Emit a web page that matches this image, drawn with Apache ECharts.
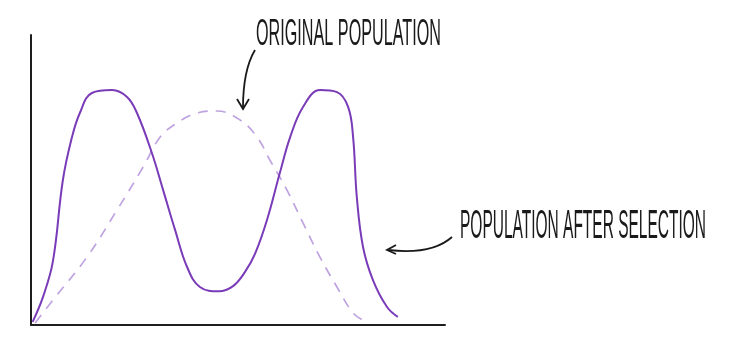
<!DOCTYPE html>
<html><head><meta charset="utf-8">
<script src="https://cdn.jsdelivr.net/npm/echarts@6/dist/echarts.min.js"></script>
<style>html,body{margin:0;padding:0;background:#fff}#c{width:750px;height:353px}</style>
</head><body><div id="c"></div>
<script>
// Population after selection (disruptive) : [trait, frequency]
var afterX = [0.4,2.9,5.3,7.7,9.9,11.8,14.7,19.6,23.2,25.6,29.2,31.9,34.8,37.7,40.8,45.4,48.8,51.7,54.1,57,60.1,62.6,65.7,69.8,73.9,76.6,77.8,78.7,80.2,82.6,86,88.6];
var afterY = [1.1,9.7,22,50,64.8,73.1,80,81,78.6,73.1,59.3,46.6,32.8,20,13.1,11.6,13.4,18.3,24.5,36.2,52.4,64.8,75.2,81,80.3,75.2,64.8,44.1,26.9,15.5,6.2,2.8];
// Original population
var origX = [1,5.3,13.5,20.8,27.1,31.2,35.3,40.1,44.9,50.5,54.6,57.7,61.8,65.7,69.8,73.9,77.8,80.2];
var origY = [0.7,8.6,23.4,39.7,54.5,64.8,69.7,73.1,73.8,70.7,64.8,56.9,46.6,35.2,23.4,13.1,4.1,1.7];
var labelOrig = 'ORIGINAL POPULATION';
var labelAfter = 'POPULATION AFTER SELECTION';

function zip(a,b){return a.map(function(v,i){return [v,b[i]];});}
var ctx = document.createElement('canvas').getContext('2d');
function fitScale(text, font, target){ctx.font = font; return target/ctx.measureText(text).width;}
var f1 = '36px "Liberation Sans"', f2 = '40px "Liberation Sans"';
var s1 = fitScale(labelOrig, f1, 185), s2 = fitScale(labelAfter, f2, 246);
var ink = {fill:null, stroke:'#1a1a1a', lineWidth:1.8};

var chart = echarts.init(document.getElementById('c'), null, {renderer:'canvas'});
chart.setOption({
  animation:false,
  grid:{left:31, right:305, top:35, bottom:28},
  xAxis:{type:'value', min:0, max:100, axisLine:{show:true, onZero:false, lineStyle:{color:'#1e1e1e', width:2}}, axisTick:{show:false}, axisLabel:{show:false}, splitLine:{show:false}},
  yAxis:{type:'value', min:0, max:100, axisLine:{show:true, onZero:false, lineStyle:{color:'#1e1e1e', width:2}}, axisTick:{show:false}, axisLabel:{show:false}, splitLine:{show:false}},
  series:[
    {type:'line', name:'Original population', data:zip(origX,origY), smooth:0.4, symbol:'none', lineStyle:{color:'#bfa3e0', width:1.7, type:[10,8]}},
    {type:'line', name:'Population after selection', data:zip(afterX,afterY), smooth:0.4, symbol:'none', lineStyle:{color:'#7a3bb8', width:2}}
  ],
  graphic:[
    {type:'text', x:256, y:35, scaleX:s1, style:{text:labelOrig, font:f1, fill:'#1a1a1a', textVerticalAlign:'middle', textAlign:'left'}},
    {type:'text', x:460, y:227, scaleX:s2, style:{text:labelAfter, font:f2, fill:'#1a1a1a', textVerticalAlign:'middle', textAlign:'left'}},
    {type:'bezierCurve', shape:{x1:255, y1:50, cpx1:243, cpy1:70, x2:243, y2:108}, style:ink},
    {type:'polyline', shape:{points:[[237,99],[243,109],[249,99]]}, style:ink},
    {type:'bezierCurve', shape:{x1:452, y1:237, cpx1:432, cpy1:255, x2:388, y2:250}, style:ink},
    {type:'polyline', shape:{points:[[396,245],[387,250],[396,254]]}, style:ink}
  ]
});
</script></body></html>
